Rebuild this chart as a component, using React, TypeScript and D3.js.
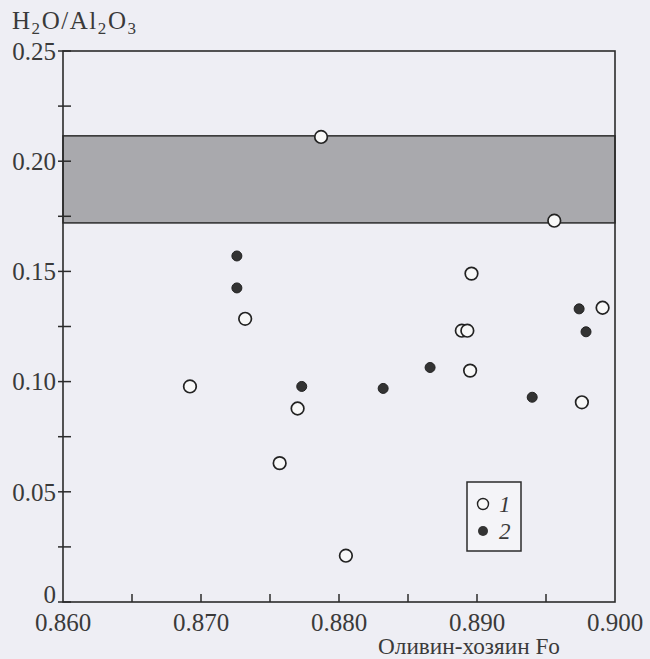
import { scaleLinear } from 'd3';

const width = 650;
const height = 659;

// Fo (olivine host) vs H2O/Al2O3
const openFo = [0.8787, 0.8956, 0.8896, 0.8991, 0.8732, 0.8889, 0.8893, 0.8692, 0.8895, 0.877, 0.8976, 0.8757, 0.8805];
const openRatio = [0.211, 0.173, 0.149, 0.1335, 0.1285, 0.1231, 0.1231, 0.0978, 0.105, 0.0878, 0.0906, 0.063, 0.021];
const filledFo = [0.8726, 0.8726, 0.8974, 0.8979, 0.8866, 0.8773, 0.8832, 0.894];
const filledRatio = [0.157, 0.1425, 0.133, 0.1226, 0.1064, 0.0978, 0.0969, 0.0929];
const band = [0.172, 0.2115];

const xTicks = [0.86, 0.865, 0.87, 0.875, 0.88, 0.885, 0.89, 0.895, 0.9];
const xLabels = ['0.860', '', '0.870', '', '0.880', '', '0.890', '', '0.900'];
const yTicks = [0, 0.025, 0.05, 0.075, 0.1, 0.125, 0.15, 0.175, 0.2, 0.225, 0.25];
const yLabels = ['0', '', '0.05', '', '0.10', '', '0.15', '', '0.20', '', '0.25'];
const legendItems = ['1', '2'];

const font = "'Times New Roman', 'Liberation Serif', Times, serif";
const ink = '#2b2b2b';
const txt = { fontFamily: font, fill: '#3a3a3a' };

export default function App() {
    const x = scaleLinear().domain([0.86, 0.9]).range([63, 615]);
    const y = scaleLinear().domain([0, 0.25]).range([602, 51]);
    const [x0, x1] = x.range();
    const [y0, y1] = y.range();

    return (
        <svg width={width} height={height} style={{ position: 'absolute', left: 0, top: 0 }}>
            <rect width={width} height={height} fill="#eeeef4" />

            {/* shaded range */}
            <rect x={x0} y={y(band[1])} width={x1 - x0} height={y(band[0]) - y(band[1])}
                  fill="#a9a9ad" stroke={ink} strokeWidth={1.5} />

            {/* frame */}
            <rect x={x0} y={y1} width={x1 - x0} height={y0 - y1} fill="none" stroke={ink} strokeWidth={1.6} />

            {yTicks.map((t, i) => (
                <g key={'y' + i}>
                    <line x1={x0 - 5} x2={x0 + 8} y1={y(t)} y2={y(t)} stroke={ink} strokeWidth={1.5} />
                    {yLabels[i] && (
                        <text x={56} y={t === 0 ? y(t) - 8 : y(t)} dy="0.35em" textAnchor="end" fontSize={25} style={txt}>
                            {yLabels[i]}
                        </text>
                    )}
                </g>
            ))}

            {xTicks.map((t, i) => (
                <g key={'x' + i}>
                    {i > 0 && i < xTicks.length - 1 && (
                        <line x1={x(t)} x2={x(t)} y1={y0} y2={y0 - 8} stroke={ink} strokeWidth={1.5} />
                    )}
                    {xLabels[i] && (
                        <text x={x(t)} y={631} textAnchor="middle" fontSize={25} style={txt}>
                            {xLabels[i]}
                        </text>
                    )}
                </g>
            ))}

            <text x={12} y={29} fontSize={25} style={txt} textLength={124} lengthAdjust="spacing">
                H<tspan fontSize={17} dy={5}>2</tspan><tspan dy={-5}>O/Al</tspan>
                <tspan fontSize={17} dy={5}>2</tspan><tspan dy={-5}>O</tspan>
                <tspan fontSize={17} dy={5}>3</tspan>
            </text>

            <text x={378} y={654} fontSize={23} style={txt} textLength={182} lengthAdjust="spacingAndGlyphs">
                Оливин-хозяин Fo
            </text>

            {filledFo.map((v, i) => (
                <circle key={'f' + i} cx={x(v)} cy={y(filledRatio[i])} r={5} fill="#333" stroke="#222" strokeWidth={1} />
            ))}
            {openFo.map((v, i) => (
                <circle key={'o' + i} cx={x(v)} cy={y(openRatio[i])} r={6.3} fill="#f8f8f8" stroke="#222" strokeWidth={1.7} />
            ))}

            {/* legend */}
            <g transform="translate(467,482)">
                <rect width={54} height={69} fill="#f4f4f8" stroke={ink} strokeWidth={1.5} />
                {legendItems.map((d, i) => (
                    <g key={d} transform={`translate(16,${22 + i * 27})`}>
                        {i === 0
                            ? <circle r={5.5} fill="#f8f8f8" stroke="#222" strokeWidth={1.4} />
                            : <circle r={5} fill="#333" />}
                        <text x={16} dy="0.35em" fontStyle="italic" fontSize={23} style={txt}>{d}</text>
                    </g>
                ))}
            </g>
        </svg>
    );
}
